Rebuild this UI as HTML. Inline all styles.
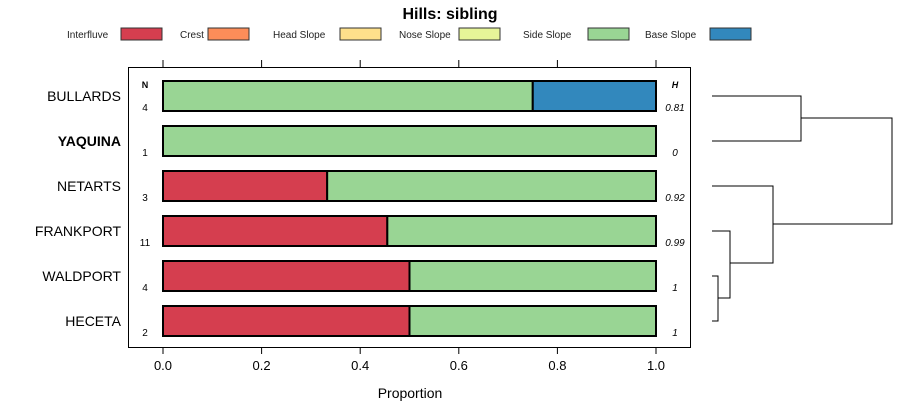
<!DOCTYPE html>
<html><head><meta charset="utf-8"><style>
body{margin:0;background:#fff;}
svg{display:block;font-family:"Liberation Sans",sans-serif;}
</style></head><body>
<svg id="c" width="900" height="420" viewBox="0 0 900 420"></svg>
<script>
const sites=["BULLARDS","YAQUINA","NETARTS","FRANKPORT","WALDPORT","HECETA"];
const classes=["Interfluve","Crest","Head Slope","Nose Slope","Side Slope","Base Slope"];
const colors=["#d53e4f","#fc8d59","#fee08b","#e6f598","#99d594","#3288bd"];
const interfluve=[0,0,0.333,0.455,0.5,0.5];
const crest=[0,0,0,0,0,0];
const headSlope=[0,0,0,0,0,0];
const noseSlope=[0,0,0,0,0,0];
const sideSlope=[0.75,1,0.667,0.545,0.5,0.5];
const baseSlope=[0.25,0,0,0,0,0];
const nVals=["4","1","3","11","4","2"];
const hVals=["0.81","0","0.92","0.99","1","1"];
const ticks=[0,0.2,0.4,0.6,0.8,1.0];
const tickLabels=["0.0","0.2","0.4","0.6","0.8","1.0"];
const series=[interfluve,crest,headSlope,noseSlope,sideSlope,baseSlope];
const NS="http://www.w3.org/2000/svg";
const svg=document.getElementById('c');
function el(t,a,txt){const e=document.createElementNS(NS,t);for(const k in a)e.setAttribute(k,a[k]);if(txt!==undefined)e.textContent=txt;svg.appendChild(e);return e;}
const x=v=>163+v*493;
const y=i=>96+i*45;
let t=el('text',{x:450,y:19,'text-anchor':'middle','font-size':16,'font-weight':'bold'},'Hills: sibling');

const legX=[[67,121],[180,208],[273,340],[399,459],[523,588],[645,710]];
classes.forEach((c,i)=>{
 let lt=el('text',{x:legX[i][0],y:38,'font-size':10,fill:'#222'},c);
 
 let r=el('rect',{x:legX[i][1],y:28,width:41,height:12,fill:colors[i],stroke:'#333','stroke-width':1});
 
});
let box=el('rect',{x:128.5,y:67.5,width:562,height:280,fill:'none',stroke:'#000','stroke-width':1});

ticks.forEach((v,i)=>{
 el('line',{x1:x(v),x2:x(v),y1:60,y2:67,stroke:'#000'});
 el('line',{x1:x(v),x2:x(v),y1:347,y2:354,stroke:'#000'});
 let tl=el('text',{x:x(v),y:370,'text-anchor':'middle','font-size':13},tickLabels[i]);
 
});
let xt=el('text',{x:410,y:398,'text-anchor':'middle','font-size':14},'Proportion');

el('text',{x:145,y:88,'text-anchor':'middle','font-size':9,'font-weight':'bold'},'N');
el('text',{x:675,y:88,'text-anchor':'middle','font-size':9,'font-weight':'bold','font-style':'italic'},'H');
sites.forEach((s,i)=>{
 let lab=el('text',{x:121,y:y(i)+5,'text-anchor':'end','font-size':14,'font-weight':s==='YAQUINA'?'bold':'normal'},s);
 
 let acc=0;
 series.forEach((arr,k)=>{
  if(arr[i]>0){
   let b=el('rect',{x:x(acc),y:y(i)-15,width:x(acc+arr[i])-x(acc),height:30,fill:colors[k],stroke:'#000','stroke-width':2});
   
   acc+=arr[i];
  }
 });
 let n=el('text',{x:145,y:y(i)+15,'text-anchor':'middle','font-size':10},nVals[i]);
 
 let h=el('text',{x:675,y:y(i)+15,'text-anchor':'middle','font-size':10,'font-style':'italic'},hVals[i]);
 
});
const d="M712 96H801V141H712 M801 118H892V224H773 M712 186H773V263H730 M712 231H730V298H718 M712 276H718V321H712";
let dp=el('path',{d:d,fill:'none',stroke:'#000','stroke-width':1});

</script>
</body></html>
